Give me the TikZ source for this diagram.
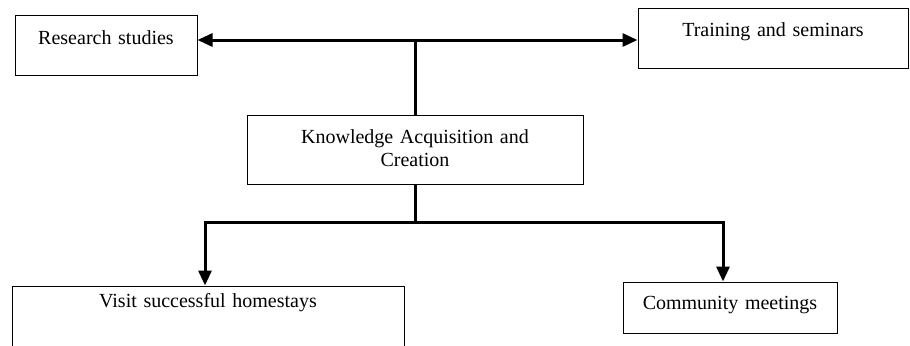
\documentclass[tikz,border=0pt]{standalone}
\usepackage{fontspec}
\setmainfont{Liberation Serif}
\usetikzlibrary{arrows.meta}

\begin{document}
\begin{tikzpicture}[x=0.5pt, y=-0.5pt,
  every node/.style={font=\fontsize{10}{11.5}\selectfont},
  box/.style={draw, line width=0.5pt, inner sep=0pt, align=center},
  link/.style={line width=1.5pt},
  arrow/.style={link, -{Triangle[length=7.5pt,width=6.5pt]}}]
\useasboundingbox (0,0) rectangle (910,345);
% Top row
\node[box, text width=91pt, text height=14.5pt, text depth=15.5pt] (research) at (106,45) {Research studies};
\node[box, text width=135pt, text height=14pt, text depth=16pt] (training) at (773,38) {Training and seminars};
% Centre
\node[box, text width=168pt, text height=14pt, text depth=20.5pt] (know) at (415,149.5) {Knowledge Acquisition and\\Creation};
% Bottom row
\node[box, text width=196pt, text height=10.5pt, text depth=26.5pt] (visit) at (208,323) {Visit successful homestays};
\node[box, text width=107pt, text height=13.5pt, text depth=12pt] (community) at (730,307.5) {Community meetings};
% Junctions
\coordinate (top) at (415,40);
\coordinate (bottom) at (415,222);
\coordinate (lcorner) at (205,222);
\coordinate (rcorner) at (723,222);
% Upper links
\draw[link] (know.north) -- (top);
\draw[arrow] (top) -- (top -| research.east);
\draw[arrow] (top) -- (top -| training.west);
% Lower links
\draw[link] (know.south) -- (bottom);
\draw[arrow] (bottom) -- (lcorner) -- (lcorner |- visit.north);
\draw[arrow] (bottom) -- (rcorner) -- (rcorner |- community.north);
\end{tikzpicture}
\end{document}
